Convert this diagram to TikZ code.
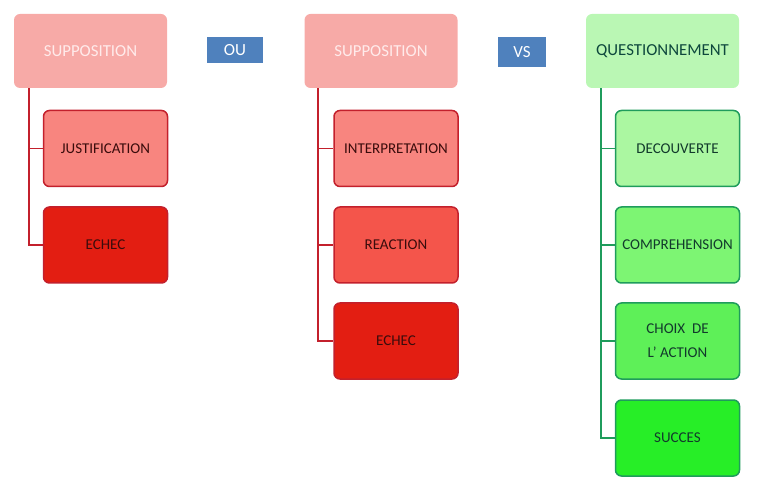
\documentclass[tikz,border=0pt]{standalone}
\usepackage{fontspec}
\setmainfont{Carlito}
\definecolor{redhead}{HTML}{F7AAA7}
\definecolor{redone}{HTML}{F8857F}
\definecolor{redtwo}{HTML}{F4554B}
\definecolor{redthree}{HTML}{E31E12}
\definecolor{redline}{HTML}{C3202C}
\definecolor{redtext}{HTML}{3A0C0C}
\definecolor{greenhead}{HTML}{BAF7B4}
\definecolor{greenone}{HTML}{ABF7A1}
\definecolor{greentwo}{HTML}{7DF573}
\definecolor{greenthree}{HTML}{5EF058}
\definecolor{greenfour}{HTML}{27EE27}
\definecolor{greenline}{HTML}{1F9C5C}
\definecolor{greentext}{HTML}{123A2C}
\definecolor{tagblue}{HTML}{4F81BD}
\begin{document}
\begin{tikzpicture}[x=1pt,y=-1pt,
    head/.style={rounded corners=6pt, minimum width=153pt, minimum height=74pt,
      font=\fontsize{16.8}{18}\selectfont},
    child/.style={rounded corners=6pt, draw, line width=1.5pt, minimum width=124pt,
      minimum height=76pt, align=center, font=\fontsize{15}{24}\selectfont},
    redchild/.style={child, draw=redline, text=redtext},
    greenchild/.style={child, draw=greenline, text=greentext},
    tag/.style={fill=tagblue, text=white, font=\fontsize{17}{19}\selectfont},
    branch/.style={line width=1.8pt}]
  \useasboundingbox (0,0) rectangle (757,502);
  % first column
  \node[head, fill=redhead, text=red!8] (s1) at (90.5,51) {SUPPOSITION};
  \node[redchild, fill=redone] (jus) at (105.5,148.5) {JUSTIFICATION};
  \node[redchild, fill=redthree] (ech1) at (105.5,245) {ECHEC};
  \node[tag, minimum width=56pt, minimum height=26pt] (ou) at (235,50) {OU};
  % second column
  \node[head, fill=redhead, text=red!8] (s2) at (381,51) {SUPPOSITION};
  \node[redchild, fill=redone] (int) at (396,148.5) {INTERPRETATION};
  \node[redchild, fill=redtwo] (rea) at (396,245) {REACTION};
  \node[redchild, fill=redthree] (ech2) at (396,341) {ECHEC};
  \node[tag, minimum width=48pt, minimum height=30pt] (vs) at (522,52) {VS};
  % third column
  \node[head, fill=greenhead, text=greentext!80!teal] (q) at (662.5,51) {QUESTIONNEMENT};
  \node[greenchild, fill=greenone] (dec) at (677.5,148.5) {DECOUVERTE};
  \node[greenchild, fill=greentwo] (com) at (677.5,245) {COMPREHENSION};
  \node[greenchild, fill=greenthree] (cho) at (677.5,341) {CHOIX~ DE\\L' ACTION};
  \node[greenchild, fill=greenfour] (suc) at (677.5,438) {SUCCES};
  % branches
  \foreach \c in {jus,ech1}
    \draw[branch, redline] (s1.south west) ++(15,0) |- (\c.west);
  \foreach \c in {int,rea,ech2}
    \draw[branch, redline] (s2.south west) ++(14,0) |- (\c.west);
  \foreach \c in {dec,com,cho,suc}
    \draw[branch, greenline] (q.south west) ++(15,0) |- (\c.west);
\end{tikzpicture}
\end{document}
